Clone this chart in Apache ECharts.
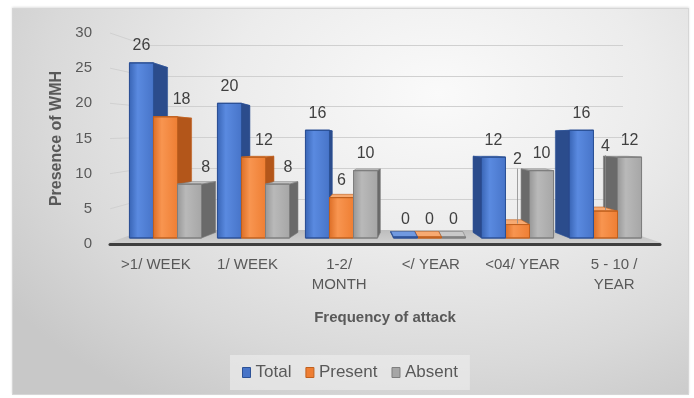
<!DOCTYPE html>
<html>
<head>
<meta charset="utf-8">
<script src="https://cdn.jsdelivr.net/npm/echarts@6/dist/echarts.min.js"></script>
<style>
  html, body { margin: 0; padding: 0; background: #ffffff; }
  #wrap { position: relative; width: 694px; height: 398px; }
  #frame {
    position: absolute; left: 12px; top: 8px; width: 675px; height: 385px;
    border: 1px solid #d6d6d6;
    box-shadow: 0 -1px 2px rgba(0,0,0,0.12);
    background: radial-gradient(ellipse 78% 95% at 63% 22%, #fafafa 0%, #ececec 40%, #d9d9d9 75%, #c8c8c8 100%);
  }
  #chart { position: absolute; left: 0; top: 0; width: 694px; height: 398px; }
</style>
</head>
<body>
<div id="wrap"><div id="frame"></div><div id="chart"></div></div>
<script>
// Attack frequency groups and WMH counts per group
const categories = ['>1/ WEEK', '1/ WEEK', '1-2/\nMONTH', '</ YEAR', '<04/ YEAR', '5 - 10 /\nYEAR'];
const seriesNames = ['Total', 'Present', 'Absent'];
const totalValues = [26, 20, 16, 0, 12, 16];
const presentValues = [18, 12, 6, 0, 2, 4];
const absentValues = [8, 8, 10, 0, 10, 12];
const yMin = 0, yMax = 30, yStep = 5;

const allValues = [totalValues, presentValues, absentValues];

// Layout of the three planes of the 3-D box: bar front, axis labels, back wall
const FRONT = { left: 121.5, right: 44.5, top: 36, bottom: 160 };
const LABEL = { left: 110, right: 34, top: 33, bottom: 154 };
const BACK = { left: 145, right: 71, top: 45, bottom: 168 };

const FONT = '"Liberation Sans", Arial, sans-serif';
const TEXT_GREY = '#595959';

// Face colours for each series: front gradient, side, top, outline
const palettes = [
  { front: ['#3864b4', '#5a8ae0', '#4774c8'], side: '#2b4c8c', top: '#7099e0', stroke: '#2c5196' },
  { front: ['#dc6d25', '#f89550', '#ee7e33'], side: '#b3561a', top: '#f7aa72', stroke: '#c0601e' },
  { front: ['#969696', '#b9b9b9', '#a6a6a6'], side: '#6a6a6a', top: '#c9c9c9', stroke: '#7e7e7e' }
];

function makeBarRenderer(s) {
  const pal = palettes[s];
  return function (params, api) {
    const i = api.value(0);
    const v = api.value(1);
    const base = api.coord([i, 0]);
    const topPt = api.coord([i, v]);
    const band = api.size([1, 0])[0];
    const cs = params.coordSys;
    const vanishX = cs.x + cs.width / 2;

    const barW = band * 0.273;
    const cx = base[0];
    const xL = cx - 1.5 * barW + s * barW;
    const xR = xL + barW;
    const yB = base[1];
    const yT = Math.min(topPt[1], yB - 1);

    // perspective depth offsets
    const dx = (vanishX - cx) * 0.064;
    const dyB = -5.6;
    const dyT = dyB + (yB - yT) * 0.058;
    const z2 = dx >= 0 ? s : 2 - s;

    const ex = dx >= 0 ? xR : xL;
    const children = [];
    children.push({
      type: 'polygon', z2: z2,
      shape: { points: [[xL, yT], [xR, yT], [xR + dx, yT + dyT], [xL + dx, yT + dyT]] },
      style: { fill: pal.top, stroke: pal.stroke, lineWidth: 0.6 }
    });
    children.push({
      type: 'polygon', z2: z2,
      shape: { points: [[ex, yT], [ex + dx, yT + dyT], [ex + dx, yB + dyB], [ex, yB]] },
      style: { fill: pal.side, stroke: pal.stroke, lineWidth: 0.6 }
    });
    children.push({
      type: 'rect', z2: z2,
      shape: { x: xL, y: yT, width: barW, height: yB - yT },
      style: {
        fill: {
          type: 'linear', x: 0, y: 0, x2: 1, y2: 0,
          colorStops: [
            { offset: 0, color: pal.front[0] },
            { offset: 0.35, color: pal.front[1] },
            { offset: 1, color: pal.front[2] }
          ]
        },
        stroke: pal.stroke, lineWidth: 1
      }
    });

    // value label
    let lx = (xL + xR) / 2;
    let ly = yT - 17;
    const prev = s > 0 ? allValues[s - 1][i] : null;
    const next = s < 2 ? allValues[s + 1][i] : null;
    let leader = false;
    if (prev !== null && next !== null && prev > v && next > v) {
      const lowerTop = api.coord([i, Math.min(prev, next)])[1];
      if (ly - lowerTop > 30) {
        ly = lowerTop - 11;
        leader = true;
      }
    }
    if (!leader && dx > 6 && prev !== null && prev > v) {
      lx += dx + 2;
    }
    if (leader) {
      children.push({
        type: 'line', z2: 10,
        shape: { x1: lx, y1: ly + 9, x2: lx, y2: yT - 1 },
        style: { stroke: '#8a8a8a', lineWidth: 0.8 }
      });
    }
    children.push({
      type: 'text', z2: 11,
      style: {
        text: String(v), x: lx, y: ly,
        fill: '#404040', fontSize: 16, fontFamily: FONT,
        align: 'center', verticalAlign: 'middle'
      }
    });
    return { type: 'group', children: children };
  };
}

const chart = echarts.init(document.getElementById('chart'), null, { renderer: 'canvas' });

const option = {
  backgroundColor: 'transparent',
  animation: false,
  textStyle: { fontFamily: FONT },
  grid: [
    Object.assign({}, FRONT),
    Object.assign({}, LABEL),
    Object.assign({}, BACK)
  ],
  xAxis: [
    { gridIndex: 0, type: 'category', data: categories, show: false },
    {
      gridIndex: 1, type: 'category', data: categories,
      axisLine: { show: true, lineStyle: { color: '#3f3f3f', width: 3 } },
      axisTick: { show: false },
      axisLabel: { color: TEXT_GREY, fontSize: 15, margin: 11, lineHeight: 20, interval: 0 },
      name: 'Frequency of attack', nameLocation: 'middle', nameGap: 66,
      nameTextStyle: { color: TEXT_GREY, fontSize: 15, fontWeight: 'bold' }
    },
    { gridIndex: 2, type: 'value', min: 0, max: 1, show: false }
  ],
  yAxis: [
    { gridIndex: 0, type: 'value', min: yMin, max: yMax, interval: yStep, show: false },
    {
      gridIndex: 1, type: 'value', min: yMin, max: yMax, interval: yStep,
      axisLine: { show: false }, axisTick: { show: false }, splitLine: { show: false },
      axisLabel: { color: TEXT_GREY, fontSize: 15, margin: 18 },
      name: 'Presence of WMH', nameLocation: 'middle', nameGap: 44,
      nameTextStyle: { color: TEXT_GREY, fontSize: 16, fontWeight: 'bold' }
    },
    {
      gridIndex: 2, type: 'value', min: yMin, max: yMax, interval: yStep,
      axisLine: { show: false }, axisTick: { show: false }, axisLabel: { show: false },
      splitLine: { show: true, lineStyle: { color: '#d0d0d0', width: 1 } }
    }
  ],
  legend: {
    left: 230, top: 355,
    padding: [9, 12],
    backgroundColor: 'rgba(238,238,238,0.6)',
    itemWidth: 8, itemHeight: 10, itemGap: 14,
    icon: 'rect',
    textStyle: { color: TEXT_GREY, fontSize: 17 },
    data: seriesNames.map((n, s) => ({
      name: n,
      itemStyle: { color: palettes[s].front[2], borderColor: palettes[s].stroke, borderWidth: 1 }
    }))
  },
  series: seriesNames.map((name, s) => ({
    name: name,
    type: 'custom',
    xAxisIndex: 0, yAxisIndex: 0,
    silent: true,
    clip: false,
    itemStyle: { color: palettes[s].front[2] },
    encode: { x: 0, y: 1 },
    data: allValues[s].map((v, i) => [i, v]),
    renderItem: makeBarRenderer(s)
  }))
};

chart.setOption(option);

// Floor slab and side-wall gridline segments joining the label plane to the back wall
const yLab = v => chart.convertToPixel({ yAxisIndex: 1 }, v);
const yBack = v => chart.convertToPixel({ yAxisIndex: 2 }, v);
const W = 694;
const deco = [];
const floorFront = yLab(0) - 1;
deco.push({
  type: 'polygon', z: 0, silent: true,
  shape: { points: [
    [LABEL.left - 2, floorFront], [W - LABEL.right + 2, floorFront],
    [W - BACK.right, yBack(0)], [BACK.left, yBack(0)]
  ] },
  style: {
    fill: { type: 'linear', x: 0, y: 0, x2: 0, y2: 1,
      colorStops: [{ offset: 0, color: '#bdbdbd' }, { offset: 1, color: '#cfcfcf' }] }
  }
});
for (let v = yMin + yStep; v <= yMax; v += yStep) {
  deco.push({
    type: 'line', z: 0, silent: true,
    shape: { x1: LABEL.left, y1: yLab(v), x2: BACK.left, y2: yBack(v) },
    style: { stroke: '#d0d0d0', lineWidth: 1 }
  });
}
chart.setOption({ graphic: deco });
</script>
</body>
</html>
